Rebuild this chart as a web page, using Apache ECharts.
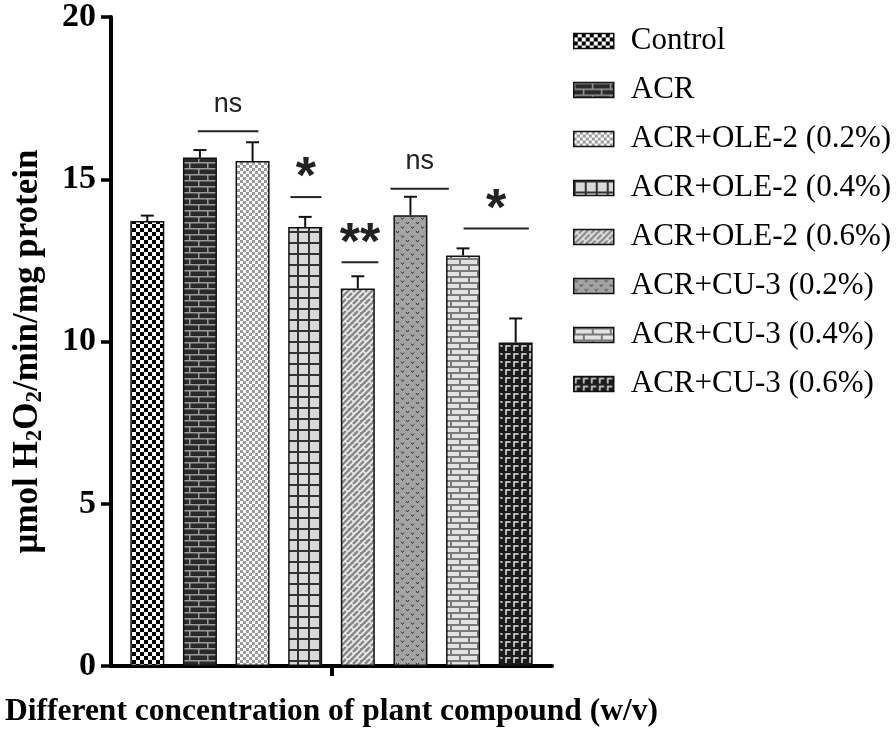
<!DOCTYPE html>
<html>
<head>
<meta charset="utf-8">
<script src="https://cdn.jsdelivr.net/npm/echarts@6/dist/echarts.min.js"></script>
<style>html,body{margin:0;padding:0;background:#fff;}#c{width:896px;height:733px;}</style>
</head>
<body>
<div id="c"></div>
<script>
const categories = ['Control','ACR','ACR+OLE-2 (0.2%)','ACR+OLE-2 (0.4%)','ACR+OLE-2 (0.6%)','ACR+CU-3 (0.2%)','ACR+CU-3 (0.4%)','ACR+CU-3 (0.6%)'];
const means  = [13.71, 15.67, 15.56, 13.53, 11.63, 13.89, 12.65, 9.97];
const errors = [0.17, 0.23, 0.58, 0.31, 0.38, 0.57, 0.22, 0.74];
const yTicks = [0, 5, 10, 15, 20];
const sigLabels = ['ns', '*', '**', 'ns', '*'];
const sigStart  = [0.96, 2.72, 3.69, 4.62, 6.01];
const sigEnd    = [2.11, 3.31, 4.39, 5.73, 7.25];
const sigLevel  = [16.48, 14.45, 12.44, 14.71, 13.48];

function tile(w, h, draw) {
  const c = document.createElement('canvas');
  c.width = w; c.height = h;
  const g = c.getContext('2d');
  draw(g, w, h);
  return c;
}
function ln(g, pts, color, width) {
  g.strokeStyle = color; g.lineWidth = width; g.beginPath();
  g.moveTo(pts[0], pts[1]);
  for (let i = 2; i < pts.length; i += 2) g.lineTo(pts[i], pts[i+1]);
  g.stroke();
}
const patterns = [
  tile(8, 8, g => { g.fillStyle = '#fff'; g.fillRect(0,0,8,8); g.fillStyle = '#000'; g.fillRect(0,0,4,4); g.fillRect(4,4,4,4); }),
  tile(18, 12, g => { g.fillStyle = '#2a2a2a'; g.fillRect(0,0,18,12); ln(g,[0,0.75,18,0.75],'#9a9a9a',1.5); ln(g,[0,6.75,18,6.75],'#9a9a9a',1.5); ln(g,[0.75,0,0.75,6],'#9a9a9a',1.5); ln(g,[9.75,6,9.75,12],'#9a9a9a',1.5); }),
  tile(6, 6, g => { g.fillStyle = '#fff'; g.fillRect(0,0,6,6); g.fillStyle = '#9a9a9a'; g.fillRect(0,0,3,3); g.fillRect(3,3,3,3); }),
  tile(11, 11, g => { g.fillStyle = '#d9d9d9'; g.fillRect(0,0,11,11); ln(g,[0,1,11,1],'#333',2); ln(g,[1,0,1,11],'#333',2); }),
  tile(12, 12, g => { g.fillStyle = '#8a8a8a'; g.fillRect(0,0,12,12);
    ln(g,[0,12,12,0],'#f0f0f0',1.6); ln(g,[-6,12,6,0],'#f0f0f0',1.6); ln(g,[6,12,18,0],'#f0f0f0',1.6);
    ln(g,[3,3,6,6],'#f0f0f0',1.4); ln(g,[9,9,12,12],'#f0f0f0',1.4); }),
  tile(10, 9, g => { g.fillStyle = '#a3a3a3'; g.fillRect(0,0,10,9);
    ln(g,[1,1.5,2.5,3.5,4,1.5],'#333',1); ln(g,[6,6,7.5,8,9,6],'#333',1); }),
  tile(18, 12, g => { g.fillStyle = '#e2e2e2'; g.fillRect(0,0,18,12); ln(g,[0,1,18,1],'#7a7a7a',2); ln(g,[0,7,18,7],'#7a7a7a',2); ln(g,[1,0,1,6],'#7a7a7a',2); ln(g,[10,6,10,12],'#7a7a7a',2); }),
  tile(8, 8, g => { g.fillStyle = '#1c1c1c'; g.fillRect(0,0,8,8); ln(g,[2,7,2,2,6.5,2],'#e6e6e6',1.5); })
];

const serif = 'Liberation Serif';
const sans = 'Liberation Sans';

const barSeries = categories.map((name, i) => ({
  type: 'bar',
  name: name,
  data: [[i, means[i]]],
  barWidth: 34,
  barGap: '-100%',
  itemStyle: { color: { image: patterns[i], repeat: 'repeat' }, borderColor: '#111', borderWidth: 1.5 },
  emphasis: { disabled: true },
  z: 2
}));

const errSeries = {
  type: 'custom',
  data: means.map((m, i) => [i, m, errors[i]]),
  encode: { x: 0, y: 1 },
  clip: false,
  z: 3,
  renderItem: function (params, api) {
    const x = api.value(0), m = api.value(1), e = api.value(2);
    const p0 = api.coord([x, m]), p1 = api.coord([x, m + e]);
    return { type: 'group', children: [
      { type: 'line', shape: { x1: p0[0], y1: p0[1], x2: p1[0], y2: p1[1] }, style: { stroke: '#111', lineWidth: 2 } },
      { type: 'line', shape: { x1: p1[0] - 6.5, y1: p1[1], x2: p1[0] + 6.5, y2: p1[1] }, style: { stroke: '#111', lineWidth: 2 } }
    ]};
  }
};

const sigSeries = {
  type: 'custom',
  data: sigLabels.map((l, i) => [sigStart[i], sigEnd[i], sigLevel[i], i]),
  encode: { x: [0, 1], y: 2 },
  clip: false,
  z: 3,
  renderItem: function (params, api) {
    const a = api.coord([api.value(0), api.value(2)]);
    const b = api.coord([api.value(1), api.value(2)]);
    const label = sigLabels[api.value(3)];
    const star = label.indexOf('*') >= 0;
    const cx = (a[0] + b[0]) / 2;
    return { type: 'group', children: [
      { type: 'line', shape: { x1: a[0], y1: a[1], x2: b[0], y2: b[1] }, style: { stroke: '#222', lineWidth: 2 } },
      { type: 'text', x: cx, y: a[1] - (star ? 18 : 27), style: {
          text: label, align: 'center', verticalAlign: 'middle', textAlign: 'center', textVerticalAlign: 'middle',
          fontFamily: sans, fontSize: star ? 52 : 27, fontWeight: star ? 'bold' : 'normal', fill: '#222' } }
    ]};
  }
};

const chart = echarts.init(document.getElementById('c'));
chart.setOption({
  backgroundColor: '#fff',
  animation: false,
  grid: { left: 111, right: 344, top: 12, bottom: 65, containLabel: false },
  legend: {
    data: categories,
    orient: 'vertical',
    left: 568,
    top: 19,
    icon: 'rect',
    itemWidth: 40,
    itemHeight: 15,
    itemGap: 15,
    selectedMode: false,
    itemStyle: { borderColor: '#111', borderWidth: 1.5 },
    textStyle: { fontFamily: serif, fontSize: 31, color: '#000', lineHeight: 34, padding: [0, 0, 0, 12] }
  },
  xAxis: {
    type: 'value',
    min: -0.69,
    max: 7.69,
    name: 'Different concentration of plant compound (w/v)',
    nameLocation: 'middle',
    nameGap: 30,
    nameTextStyle: { fontFamily: serif, fontWeight: 'bold', fontSize: 31.5, color: '#000' },
    axisLine: { show: true, onZero: false, lineStyle: { color: '#000', width: 4 } },
    axisTick: { show: true, customValues: [3.5], length: 10, lineStyle: { color: '#000', width: 4 } },
    axisLabel: { show: false },
    splitLine: { show: false }
  },
  yAxis: {
    type: 'value',
    min: yTicks[0],
    max: yTicks[yTicks.length - 1],
    interval: yTicks[1] - yTicks[0],
    name: '{t|μmol H}{s|2}{t|O}{s|2}{t|/min/mg protein}',
    nameLocation: 'middle',
    nameRotate: 90,
    nameGap: 64,
    nameTextStyle: { padding: [0, 20, 0, 0], rich: {
      t: { fontFamily: serif, fontWeight: 'bold', fontSize: 35, color: '#000', lineHeight: 38 },
      s: { fontFamily: serif, fontWeight: 'bold', fontSize: 23, color: '#000', lineHeight: 22, verticalAlign: 'bottom' }
    } },
    axisLine: { show: true, onZero: false, lineStyle: { color: '#000', width: 4 } },
    axisTick: { show: true, length: 10, lineStyle: { color: '#000', width: 3.5 } },
    axisLabel: { fontFamily: serif, fontWeight: 'bold', fontSize: 34, color: '#000', margin: 15 },
    splitLine: { show: false }
  },
  series: barSeries.concat([errSeries, sigSeries])
});
</script>
</body>
</html>
